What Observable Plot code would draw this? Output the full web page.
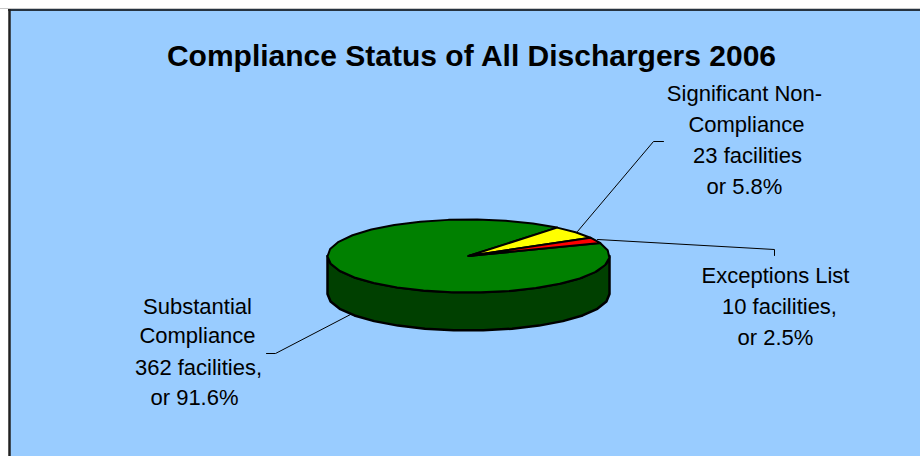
<!DOCTYPE html>
<html>
<head>
<meta charset="utf-8">
<script src="https://cdn.jsdelivr.net/npm/d3@7"></script>
<script src="https://cdn.jsdelivr.net/npm/@observablehq/plot@0.6"></script>
<style>
html,body{margin:0;padding:0;background:#fff;overflow:hidden}
svg{display:block}
</style>
</head>
<body>
<div id="chart"></div>
<script>
// Data
const titleText = "Compliance Status of All Dischargers 2006";
const categories = ["Substantial Compliance", "Significant Non-Compliance", "Exceptions List"];
const facilities = [362, 23, 10];
const sliceColors = ["#008000", "#FFFF00", "#FF0000"];

const labelLines = [
  ["Substantial", "Compliance", "362 facilities,", "or 91.6%"],
  ["Significant Non-", "Compliance", "23 facilities", "or 5.8%"],
  ["Exceptions List", "10 facilities,", "or 2.5%"]
];

// Layout, in the chart's pixel-domain x/y scales
const W = 920, H = 456;
const pie = {cx: 468, cy: 255.5, rx: 141, ry: 36.5, depth: 38, firstAngle: 21, step: 12};
const labelX = [[197, 197, 198, 194], [744, 746, 747, 744], [775, 779, 775]];
const labelY = [[306, 335, 367, 397], [93, 124, 155, 186], [275, 306, 337]];
const leaders = [
  [[350, 314], [275, 353], [266, 353]],
  [[577, 231], [653, 141], [663, 141]],
  [[597, 239], [774, 249], [774, 255]]
];

const rad = Math.PI / 180;
const pt = (deg, dy = 0) => ({x: pie.cx + pie.rx * Math.cos(deg * rad), y: pie.cy - pie.ry * Math.sin(deg * rad) + dy});

// Slices run clockwise from firstAngle (math degrees); the first slice starts where the last one ends.
const total = d3.sum(facilities);
let cursor = pie.firstAngle;
const slices = categories.map((name, i) => {
  const sweep = facilities[i] / total * 360;
  const a0 = cursor, a1 = cursor - sweep;
  cursor = a1;
  const n = Math.max(1, Math.ceil(sweep / pie.step));
  const pts = [{x: pie.cx, y: pie.cy}];
  for (let k = 0; k <= n; k++) pts.push(pt(a0 + (a1 - a0) * k / n));
  pts.push({x: pie.cx, y: pie.cy});
  return pts.map(p => ({...p, name, color: sliceColors[i]}));
});

// Side wall: front half of the rim and the same half pushed down by depth
const wall = [];
for (let a = 180; a <= 360; a += pie.step) wall.push(pt(a));
for (let a = 360; a >= 180; a -= pie.step) wall.push(pt(a, pie.depth));
wall.push(wall[0]);

const panel = [{x1: 9, x2: W, y1: 9, y2: H}];
const textRows = labelLines.flatMap((lines, i) =>
  lines.map((text, j) => ({text, x: labelX[i][j], y: labelY[i][j]})));

const chart = Plot.plot({
  width: W, height: H,
  margin: 0,
  style: {background: "#fff", fontFamily: "'Liberation Sans', Arial, sans-serif"},
  x: {domain: [0, W], range: [0, W], axis: null},
  y: {domain: [0, H], range: [0, H], axis: null},
  marks: [
    Plot.rect(panel, {x1: "x1", x2: "x2", y1: "y1", y2: "y2", fill: "#99CCFF"}),
    Plot.ruleY([8], {stroke: "#c8c8c8", strokeWidth: 1}),
    Plot.ruleY([9.5], {x1: 8, x2: W, stroke: "#000", strokeWidth: 1.5}),
    Plot.ruleX([9], {y1: 9, y2: H, stroke: "#222", strokeWidth: 2.5}),
    ...leaders.map(l => Plot.line(l, {x: d => d[0], y: d => d[1], stroke: "#000", strokeWidth: 1})),
    Plot.line(wall, {x: "x", y: "y", fill: "#004000", stroke: "#000", strokeWidth: 2.5}),
    ...slices.map((s, i) => Plot.line(s, {x: "x", y: "y", fill: sliceColors[i], stroke: "#000", strokeWidth: 2, curve: "linear"})),
    Plot.text(textRows, {x: "x", y: "y", text: "text", fontSize: 22, fill: "#000"}),
    Plot.text([titleText], {x: [471], y: [56], text: d => d, fontSize: 30, fontWeight: "bold", fill: "#000"})
  ]
});
document.getElementById("chart").append(chart);
</script>
</body>
</html>
